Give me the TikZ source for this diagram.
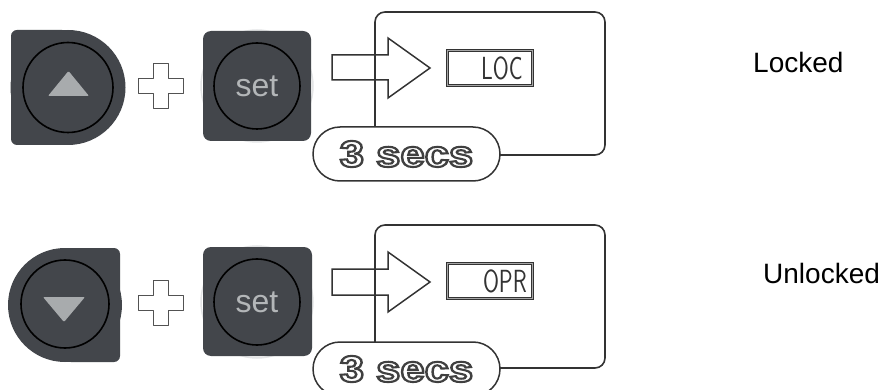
\documentclass[tikz,border=0pt]{standalone}
\usepackage{fontspec}
\setmainfont{Liberation Sans}
\definecolor{btn}{HTML}{43464B}
\definecolor{tri}{HTML}{A8ABAD}
\definecolor{settxt}{HTML}{B3B6B8}
\definecolor{frm}{HTML}{333333}
\definecolor{halo}{HTML}{E4E5E6}
\tikzset{
  btnfill/.style={fill=btn},
  ring/.style={circle, draw=black, line width=1.6pt, inner sep=0pt},
  halocirc/.style={draw=halo, line width=1.5pt},
  trimark/.style={fill=tri, rounded corners=1pt},
  plusmark/.style={draw=frm!85, fill=white, line width=1.8pt, line join=round},
  framebox/.style={draw=frm, line width=1.6pt, rounded corners=10pt},
  hollowarrow/.style={draw=frm, line width=1.5pt, line join=miter},
  pill/.style={draw=frm, fill=white, line width=1.5pt, rounded corners=27pt,
    minimum width=187pt, minimum height=54pt, inner sep=0pt},
  lcdbox/.style={draw=frm, line width=0.9pt, double=gray!70, double distance=0.9pt,
    minimum width=85pt, minimum height=35pt, inner sep=0pt},
  lcdtext/.style={anchor=east, inner sep=0pt, text=frm,
    font=\fontsize{32}{32}\sffamily},
  settext/.style={text=settxt, font=\fontsize{32}{32}\selectfont},
  secstext/.style={font=\fontsize{37}{37}\bfseries},
  label/.style={anchor=base west, inner sep=0pt, font=\fontsize{28}{28}\selectfont}
}
\newcommand{\secslabel}{\scalebox{1.18}[1]{\color{white}\special{pdf:literal direct 2 Tr 2.1 w 0.25 0.25 0.25 RG}3 secs\special{pdf:literal direct 0 Tr}}}
\begin{document}
\begin{tikzpicture}[x=1pt,y=-1pt]
\useasboundingbox (0,0) rectangle (886,390);
\clip (0,0) rectangle (886,390);

% ---------- top row ----------
\draw[halocirc] (257,86) circle (56);
% up button (D shape)
\fill[btnfill] (68,87.5) circle (57.5);
\fill[btnfill, rounded corners=6pt] (68,30) -- (11,30) -- (11,145) -- (68,145) -- cycle;
\node[ring, minimum size=90pt] (upring) at (68,87.5) {};
\fill[trimark] (48,96) -- (89,96) -- (68.5,71) -- cycle;
% plus
\draw[plusmark] (153.5,63.5) -- (168.5,63.5) -- (168.5,78.5) -- (183.5,78.5) -- (183.5,93.5)
  -- (168.5,93.5) -- (168.5,108.5) -- (153.5,108.5) -- (153.5,93.5) -- (138.5,93.5)
  -- (138.5,78.5) -- (153.5,78.5) -- cycle;
% set button
\fill[btnfill, rounded corners=8pt] (203,31) rectangle (311,141);
\node[ring, minimum size=86pt, settext] (setone) at (257,86) {set};
% display frame
\draw[framebox] (375,12) rectangle (605,155);
\draw[hollowarrow] (332,55) -- (388,55) -- (388,38) -- (430,68) -- (388,98) -- (388,80) -- (332,80) -- cycle;
\node[lcdbox] (lcdone) at (490,68) {};
\node[lcdtext] (locone) at ([xshift=-10pt]lcdone.east) {\scalebox{0.72}[1]{LOC}};
\node[pill] (pillone) at (406.5,154) {};
\node[secstext] (secsone) at (pillone.center) {\secslabel};
\node[label] (locked) at (753,73) {Locked};

% ---------- bottom row ----------
\draw[halocirc] (257,302) circle (56);
% down button (mirrored D shape)
\fill[btnfill] (65,305) circle (57);
\fill[btnfill, rounded corners=6pt] (65,248) -- (120,248) -- (120,362) -- (65,362) -- cycle;
\node[ring, minimum size=88pt] (downring) at (65,304) {};
\fill[trimark] (43,297) -- (85,297) -- (64,322) -- cycle;
% plus
\draw[plusmark] (153.5,280.5) -- (168.5,280.5) -- (168.5,295.5) -- (183.5,295.5) -- (183.5,310.5)
  -- (168.5,310.5) -- (168.5,325.5) -- (153.5,325.5) -- (153.5,310.5) -- (138.5,310.5)
  -- (138.5,295.5) -- (153.5,295.5) -- cycle;
% set button
\fill[btnfill, rounded corners=8pt] (203,247) rectangle (312,356);
\node[ring, minimum size=86pt, settext] (settwo) at (257,302) {set};
% display frame
\draw[framebox] (375,225) rectangle (605,368);
\draw[hollowarrow] (332,269) -- (388,269) -- (388,252) -- (430,282) -- (388,312) -- (388,295) -- (332,295) -- cycle;
\node[lcdbox] (lcdtwo) at (490,281) {};
\node[lcdtext] (oprtwo) at ([xshift=-6pt]lcdtwo.east) {\scalebox{0.72}[1]{OPR}};
\node[pill] (pilltwo) at (406.5,369) {};
\node[secstext] (secstwo) at (pilltwo.center) {\secslabel};
\node[label] (unlocked) at (763,283) {Unlocked};
\end{tikzpicture}
\end{document}
